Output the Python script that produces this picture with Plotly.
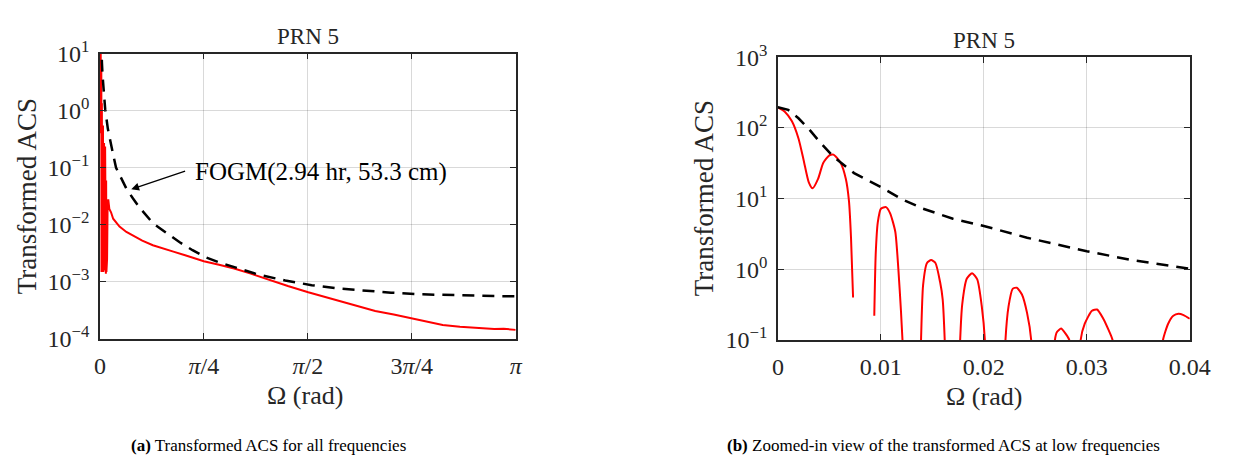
import plotly.graph_objects as go
import math

# ---------------- data ----------------
# (a) whole band, red: transformed ACS
omega_full = [0.0, 0.002, 0.0034, 0.0054, 0.0073, 0.0085, 0.0105, 0.0122, 0.0135, 0.0148,
              0.0165, 0.0189, 0.021, 0.0232, 0.0255, 0.0276, 0.029, 0.0312, 0.035, 0.0393,
              0.041, 0.043, 0.045, 0.047, 0.049, 0.051, 0.054, 0.058, 0.063, 0.071,
              0.084, 0.10, 0.12, 0.148, 0.20, 0.25, 0.32, 0.40, 0.48, 0.555, 0.65,
              0.785, 0.90, 1.014, 1.14, 1.27, 1.42, 1.574, 1.70, 1.83, 1.96, 2.08,
              2.22, 2.36, 2.48, 2.59, 2.72, 2.85, 2.98, 3.05, 3.1416]
acs_full = [196, 71, 14, 42, 0.4, 0.0016, 7.5, 0.0015, 0.002, 1.35,
            0.0016, 0.88, 0.0018, 0.55, 0.0015, 0.145, 0.0017, 0.27, 0.0016, 0.235,
            0.0014, 0.12, 0.0014, 0.06, 0.0015, 0.035, 0.0025, 0.022, 0.028, 0.019,
            0.0166, 0.0128, 0.0110, 0.0093, 0.0075, 0.0065, 0.0053, 0.0044, 0.0038, 0.0034, 0.0029,
            0.0023, 0.0020, 0.00172, 0.00140, 0.00110, 0.00085, 0.00066, 0.00055, 0.00045, 0.00037, 0.00031,
            0.00027, 0.00023, 0.00020, 0.000177, 0.000165, 0.000156, 0.000150, 0.000152, 0.000145]

# (a) whole band, dashed: FOGM(2.94 hr, 53.3 cm)
omega_fogm_full = [0.0, 0.005, 0.01, 0.015, 0.02, 0.03, 0.04, 0.06, 0.08, 0.10, 0.122, 0.15,
                   0.20, 0.25, 0.30, 0.40, 0.50, 0.60, 0.70, 0.80, 0.90, 1.0, 1.2, 1.4,
                   1.6, 1.8, 2.0, 2.2, 2.4, 2.6, 2.8, 3.0, 3.1416]
fogm_full = [196, 42, 14.6, 7.0, 4.1, 1.8, 1.05, 0.48, 0.27, 0.17, 0.10, 0.072,
             0.043, 0.029, 0.020, 0.0107, 0.0072, 0.0050, 0.0036, 0.0027, 0.0022, 0.00185, 0.00134, 0.00106,
             0.00088, 0.00077, 0.00070, 0.00065, 0.00061, 0.00059, 0.000575, 0.000565, 0.00056]

# (b) low frequencies, red (None = sample not shown on the log axis)
omega_zoom = [0.0, 0.00067, 0.00135, 0.0020, 0.0025, 0.0030, 0.00337, 0.0039, 0.0044, 0.0050,
              0.0054, 0.0061, 0.0066, 0.0069, 0.0071, 0.0073, 0.0083,
              0.00936, 0.0095, 0.0097, 0.0100, 0.0105, 0.0109, 0.0114, 0.0117, 0.01195, 0.0121, 0.01225, 0.013,
              0.01385, 0.0139, 0.0141, 0.01448, 0.01488, 0.0153, 0.01576, 0.0160, 0.0162, 0.01625, 0.017,
              0.01765, 0.0177, 0.0179, 0.01835, 0.01886, 0.01936, 0.0198, 0.0201, 0.02015, 0.021,
              0.02205, 0.0221, 0.0224, 0.0228, 0.0232, 0.0237, 0.0242, 0.0246, 0.02465, 0.0258,
              0.02685, 0.0269, 0.0271, 0.0275, 0.0279, 0.0283, 0.02835, 0.029,
              0.02935, 0.0294, 0.0298, 0.0305, 0.0310, 0.0316, 0.0321, 0.0325, 0.03255, 0.035,
              0.03735, 0.0374, 0.0379, 0.0384, 0.0389, 0.0394, 0.0400]
acs_zoom = [196, 170, 125, 71, 35, 17, 14, 19, 32, 41,
            42, 32, 19, 9.3, 2.8, 0.4, None,
            0.22, 1.66, 4.6, 7.2, 7.6, 6.2, 3.4, 1.0, 0.26, 0.1, 0.05, None,
            0.05, 0.1, 0.6, 1.23, 1.35, 1.23, 0.65, 0.38, 0.1, 0.05, None,
            0.05, 0.1, 0.32, 0.74, 0.88, 0.72, 0.3, 0.1, 0.05, None,
            0.05, 0.1, 0.3, 0.53, 0.55, 0.44, 0.24, 0.1, 0.05, None,
            0.05, 0.1, 0.13, 0.145, 0.125, 0.1, 0.05, None,
            0.05, 0.1, 0.17, 0.26, 0.27, 0.20, 0.14, 0.1, 0.05, None,
            0.05, 0.1, 0.17, 0.22, 0.235, 0.225, 0.20]

# (b) low frequencies, dashed FOGM
omega_fogm_zoom = [0.0, 0.001, 0.002, 0.003, 0.004, 0.0054, 0.0074, 0.010, 0.012, 0.0141,
                   0.017, 0.020, 0.0242, 0.027, 0.030, 0.0343, 0.037, 0.040]
fogm_zoom = [196, 180, 137, 97, 65, 39, 23, 14.6, 9.9, 7.2,
             5.2, 4.1, 2.8, 2.25, 1.8, 1.36, 1.18, 1.02]

x_ticks_full = [0, math.pi / 4, math.pi / 2, 3 * math.pi / 4, math.pi]
x_ticktext_full = ["0", "<i>π</i>/4", "<i>π</i>/2", "3<i>π</i>/4", "<i>π</i>"]
x_ticks_zoom = [0, 0.01, 0.02, 0.03, 0.04]
x_ticktext_zoom = ["0", "0.01", "0.02", "0.03", "0.04"]
y_ticks_full = [1e-4, 1e-3, 1e-2, 1e-1, 1e0, 1e1]
y_ticktext_full = ["10<sup>−4</sup>", "10<sup>−3</sup>", "10<sup>−2</sup>", "10<sup>−1</sup>",
                   "10<sup>0</sup>", "10<sup>1</sup>"]
y_ticks_zoom = [1e-1, 1e0, 1e1, 1e2, 1e3]
y_ticktext_zoom = ["10<sup>−1</sup>", "10<sup>0</sup>", "10<sup>1</sup>", "10<sup>2</sup>", "10<sup>3</sup>"]

# ---------------- figure ----------------
W, H = 1246, 471
FONT = "Liberation Serif"
RED = "#ff0000"
DASH = "12px,8px"

fig = go.Figure()
fig.add_trace(go.Scatter(x=omega_full, y=acs_full, mode="lines",
                         line=dict(color=RED, width=2), xaxis="x", yaxis="y", showlegend=False))
fig.add_trace(go.Scatter(x=omega_fogm_full, y=fogm_full, mode="lines",
                         line=dict(color="black", width=2.5, dash=DASH),
                         xaxis="x", yaxis="y", showlegend=False))
fig.add_trace(go.Scatter(x=omega_zoom, y=acs_zoom, mode="lines", connectgaps=False,
                         line=dict(color=RED, width=2, shape="spline", smoothing=0.6),
                         xaxis="x2", yaxis="y2", showlegend=False))
fig.add_trace(go.Scatter(x=omega_fogm_zoom, y=fogm_zoom, mode="lines",
                         line=dict(color="black", width=2.5, dash=DASH),
                         xaxis="x2", yaxis="y2", showlegend=False))


def px(x):
    return x / W


def py(y):
    return 1 - y / H


axis_common = dict(showline=True, linecolor="#262626", linewidth=1.5, mirror="ticks",
                   ticks="inside", ticklen=6, tickcolor="#262626", tickwidth=1.2,
                   showgrid=True, gridcolor="rgba(0,0,0,0.15)", gridwidth=1,
                   zeroline=False, tickfont=dict(family=FONT, size=24, color="#262626"))

fig.update_layout(
    width=W, height=H, margin=dict(l=0, r=0, t=0, b=0),
    paper_bgcolor="white", plot_bgcolor="white",
    xaxis=dict(domain=[px(96), px(521)], range=[0, math.pi], tickvals=x_ticks_full,
               ticktext=x_ticktext_full, anchor="y", ticklabelstandoff=4, **axis_common),
    yaxis=dict(domain=[py(344), py(39)], type="log", range=[-4, 1], tickvals=y_ticks_full,
               ticktext=y_ticktext_full, anchor="x", ticklabelstandoff=4, **axis_common),
    xaxis2=dict(domain=[px(789), px(1210)], range=[0, 0.04], tickvals=x_ticks_zoom,
                ticktext=x_ticktext_zoom, anchor="y2", ticklabelstandoff=4, **axis_common),
    yaxis2=dict(domain=[py(345), py(43)], type="log", range=[-1, 3], tickvals=y_ticks_zoom,
                ticktext=y_ticktext_zoom, anchor="x2", ticklabelstandoff=4, **axis_common),
)

txt = dict(family=FONT, color="#262626")
c = dict(xref="paper", yref="paper", xanchor="center", yanchor="middle", showarrow=False)
ann = []
# panel titles
ann.append(dict(text="PRN 5", x=px(309), y=py(21), font=dict(size=23, **txt), **c))
ann.append(dict(text="PRN 5", x=px(1000), y=py(25), font=dict(size=23, **txt), **c))
# x titles
ann.append(dict(text="Ω (rad)", x=px(306), y=py(404), font=dict(size=26, **txt), **c))
ann.append(dict(text="Ω (rad)", x=px(1000), y=py(405), font=dict(size=26, **txt), **c))
# y titles
ann.append(dict(text="Transformed ACS", x=px(21), y=py(192), textangle=-90,
                font=dict(size=27, **txt), **c))
ann.append(dict(text="Transformed ACS", x=px(713), y=py(194), textangle=-90,
                font=dict(size=27, **txt), **c))
# FOGM label + arrow
ann.append(dict(text="FOGM(2.94 hr, 53.3 cm)", x=0.70, y=math.log10(0.083), xref="x", yref="y",
                xanchor="left", yanchor="middle", showarrow=False,
                font=dict(family=FONT, size=25, color="black")))
ann.append(dict(text="", x=0.237, y=math.log10(0.042), xref="x", yref="y",
                ax=0.655, ay=math.log10(0.089), axref="x", ayref="y",
                showarrow=True, arrowhead=2, arrowsize=1.2, arrowwidth=1.3, arrowcolor="black"))
# captions
ann.append(dict(text="<b>(a)</b> Transformed ACS for all frequencies", x=px(268), y=py(458),
                font=dict(family=FONT, size=17, color="black"), **c))
ann.append(dict(text="<b>(b)</b> Zoomed-in view of the transformed ACS at low frequencies",
                x=px(958), y=py(458), font=dict(family=FONT, size=17, color="black"), **c))
fig.update_layout(annotations=ann)

fig.write_html("out.html")
